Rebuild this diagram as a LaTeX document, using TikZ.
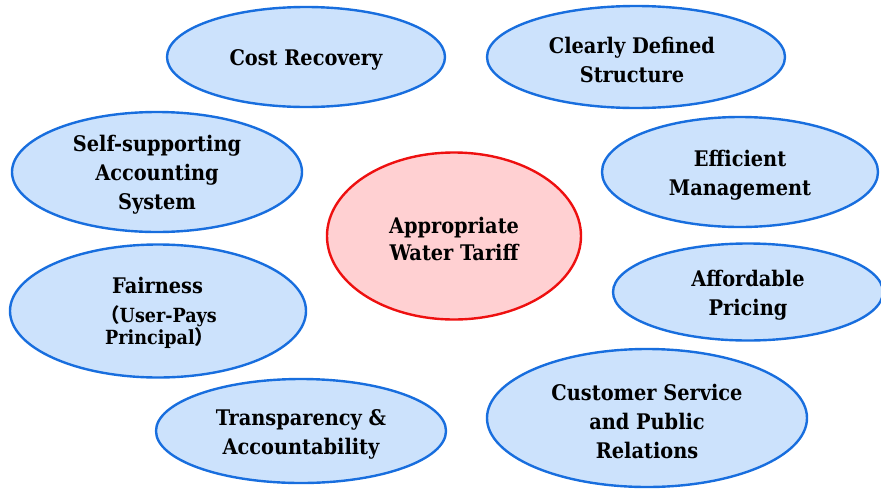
\documentclass[tikz,border=0pt]{standalone}
\usepackage{fontspec}
\setmainfont{DejaVu Serif Condensed}
\newfontfamily\cjkfont{Noto Sans CJK SC}
\usetikzlibrary{shapes.geometric}
\definecolor{bluebd}{RGB}{24,110,222}
\definecolor{bluefill}{RGB}{204,226,252}
\definecolor{redbd}{RGB}{238,16,16}
\definecolor{redfill}{RGB}{255,208,210}
\tikzset{
  bubble/.style={ellipse, draw=bluebd, fill=bluefill, line width=2.4pt, inner sep=0pt},
  core/.style={bubble, draw=redbd, fill=redfill},
  txt/.style={inner sep=0pt, align=center, font=\fontsize{21.5}{29}\selectfont\bfseries},
  small/.style={inner sep=0pt, font=\fontsize{19.5}{24}\selectfont\bfseries}
}
\begin{document}
\begin{tikzpicture}[x=1pt,y=-1pt]
\useasboundingbox (0,0) rectangle (881,488);
\node[bubble, minimum width=278pt, minimum height=100pt] (cost) at (306,57) {};
\node[txt] (costT) at ([yshift=-3pt]cost.center) {Cost Recovery};
\node[bubble, minimum width=298pt, minimum height=102pt] (clear) at (636,57) {};
\node[txt] (clearT) at ([yshift=-3pt,xshift=-4pt]clear.center) {Clearly Defined\\Structure};
\node[bubble, minimum width=290pt, minimum height=120pt] (self) at (157,172) {};
\node[txt] (selfT) at ([yshift=-3pt]self.center) {Self-supporting\\Accounting\\System};
\node[bubble, minimum width=276pt, minimum height=110pt] (eff) at (740,172) {};
\node[txt] (effT) at ([yshift=-3pt]eff.center) {Efficient\\Management};
\node[core, minimum width=254pt, minimum height=167pt] (core) at (454,236) {};
\node[txt, font=\fontsize{21.5}{27.5}\selectfont\bfseries] (coreT) at ([yshift=-3pt]core.center) {Appropriate\\Water Tariff};
\node[bubble, minimum width=270pt, minimum height=97pt] (aff) at (748,292) {};
\node[txt] (affT) at ([yshift=-3pt]aff.center) {Affordable\\Pricing};
\node[bubble, minimum width=296pt, minimum height=133pt] (fair) at (158,311) {};
\node[txt, anchor=base west] (fair1) at (112,293) {Fairness};
\node[small, anchor=base west] (fair2) at (100,322) {{\cjkfont （}User-Pays};
\node[small, anchor=base west] (fair3) at (105,344) {Principal{\cjkfont ）}};
\node[bubble, minimum width=290pt, minimum height=104pt] (trans) at (301,431) {};
\node[txt] (transT) at ([yshift=-3pt]trans.center) {Transparency \&\\Accountability};
\node[bubble, minimum width=320pt, minimum height=138pt] (cust) at (647,418) {};
\node[txt] (custT) at ([yshift=-3pt]cust.center) {Customer Service\\and Public\\Relations};
\end{tikzpicture}
\end{document}
